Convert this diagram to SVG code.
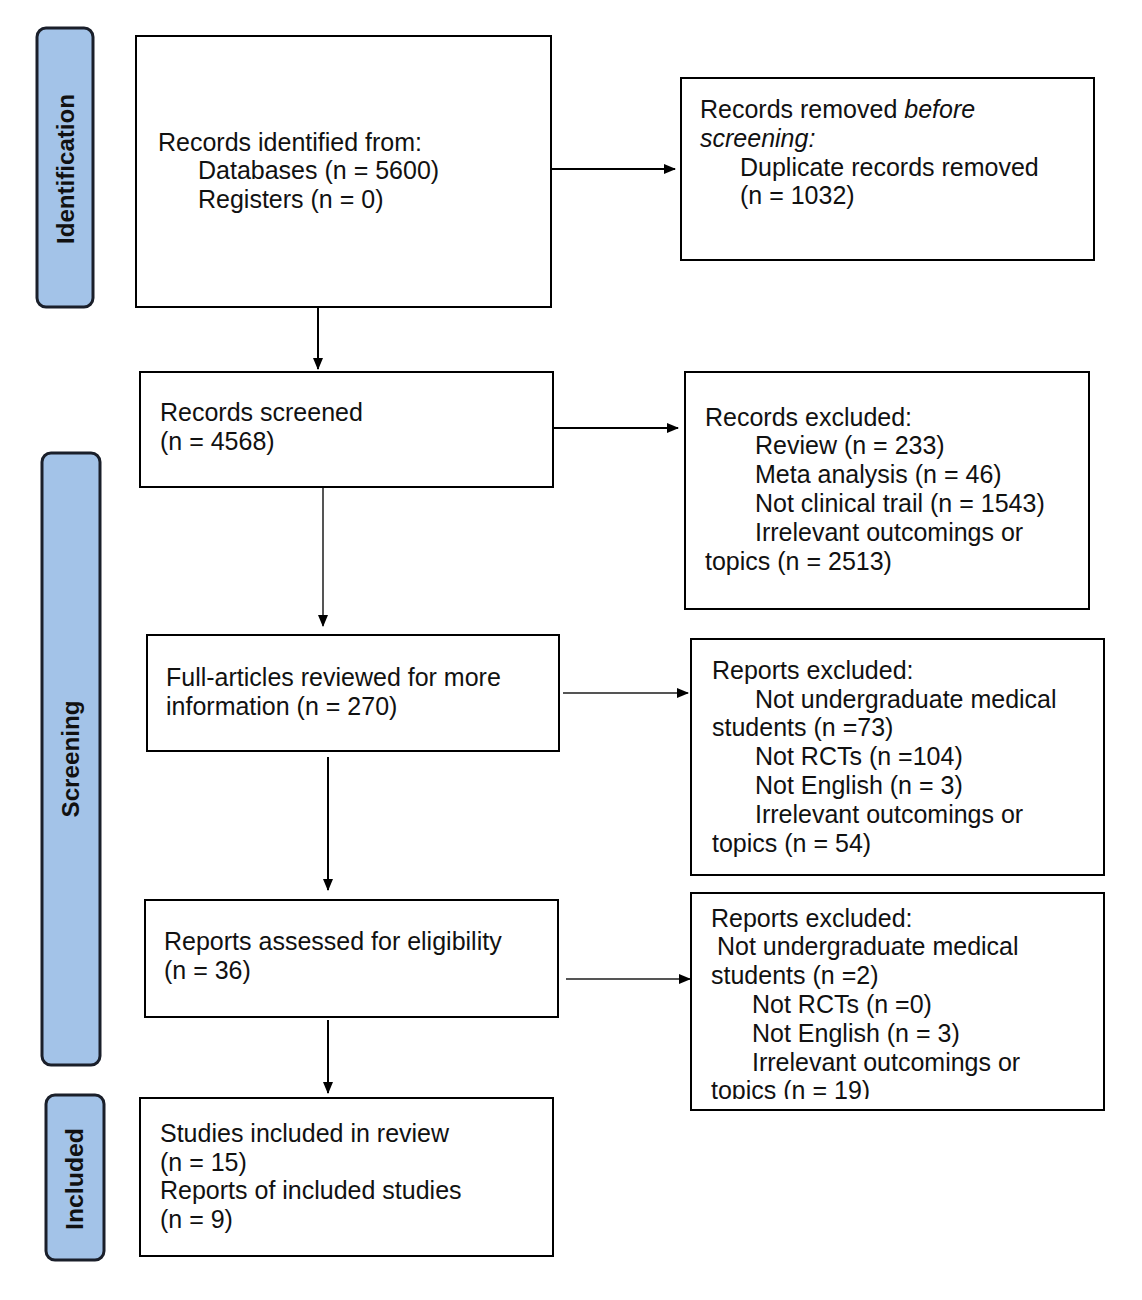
<svg xmlns="http://www.w3.org/2000/svg" width="1142" height="1300" viewBox="0 0 1142 1300">
<style>
.box{fill:#fff;stroke:#000;stroke-width:2}
.side{fill:#a3c3e8;stroke:#1a1f2a;stroke-width:3}
.t{font-family:"Liberation Sans",Arial,sans-serif;font-size:25px;fill:#111}
.s{font-family:"Liberation Sans",Arial,sans-serif;font-size:23px;font-weight:bold;fill:#111}
.c{stroke:#000;stroke-width:2;fill:none;marker-end:url(#ah)}
.g{stroke:#555;stroke-width:2;fill:none;marker-end:url(#ah)}
</style>
<defs>
<marker id="ah" markerWidth="12" markerHeight="10" refX="11" refY="5" orient="auto" markerUnits="userSpaceOnUse">
<path d="M0,0 L12,5 L0,10 Z" fill="#000"/>
</marker>
<clipPath id="clip8"><rect x="691" y="893" width="413" height="206"/></clipPath>
</defs>
<rect width="1142" height="1300" fill="#fff"/>

<g id="phase-identification">
<rect class="side" x="37" y="28" width="56" height="279" rx="9"/>
<text class="s" transform="translate(74,169) rotate(-90)" text-anchor="middle" textLength="150" lengthAdjust="spacingAndGlyphs">Identification</text>
</g>
<g id="phase-screening">
<rect class="side" x="42" y="453" width="58" height="612" rx="9"/>
<text class="s" transform="translate(79,759) rotate(-90)" text-anchor="middle" textLength="117" lengthAdjust="spacingAndGlyphs">Screening</text>
</g>
<g id="phase-included">
<rect class="side" x="46" y="1095" width="58" height="165" rx="9"/>
<text class="s" transform="translate(83,1179) rotate(-90)" text-anchor="middle" textLength="102" lengthAdjust="spacingAndGlyphs">Included</text>
</g>

<g id="connectors">
<line class="c" x1="551" y1="169" x2="675" y2="169"/>
<line class="c" x1="318" y1="308" x2="318" y2="369"/>
<line class="c" x1="553" y1="428" x2="678" y2="428"/>
<line class="g" x1="323" y1="487" x2="323" y2="626"/>
<line class="g" x1="563" y1="693" x2="688" y2="693"/>
<line class="c" x1="328" y1="757" x2="328" y2="890"/>
<line class="g" x1="566" y1="979" x2="690" y2="979"/>
<line class="c" x1="328" y1="1020" x2="328" y2="1093"/>
</g>

<g id="records-identified">
<rect class="box" x="136" y="36" width="415" height="271"/>
<text class="t" x="158" y="151">Records identified from:</text>
<text class="t" x="198" y="179">Databases (n = 5600)</text>
<text class="t" x="198" y="208">Registers (n = 0)</text>
</g>

<g id="records-removed">
<rect class="box" x="681" y="78" width="413" height="182"/>
<text class="t" x="700" y="118">Records removed <tspan font-style="italic">before</tspan></text>
<text class="t" x="700" y="147" font-style="italic">screening:</text>
<text class="t" x="740" y="176">Duplicate records removed</text>
<text class="t" x="740" y="204">(n = 1032)</text>
</g>

<g id="records-screened">
<rect class="box" x="140" y="372" width="413" height="115"/>
<text class="t" x="160" y="421">Records screened</text>
<text class="t" x="160" y="450">(n = 4568)</text>
</g>

<g id="records-excluded">
<rect class="box" x="685" y="372" width="404" height="237"/>
<text class="t" x="705" y="426">Records excluded:</text>
<text class="t" x="755" y="454">Review (n = 233)</text>
<text class="t" x="755" y="483">Meta analysis (n = 46)</text>
<text class="t" x="755" y="512">Not clinical trail (n = 1543)</text>
<text class="t" x="755" y="541">Irrelevant outcomings or</text>
<text class="t" x="705" y="570">topics (n = 2513)</text>
</g>

<g id="full-articles">
<rect class="box" x="147" y="635" width="412" height="116"/>
<text class="t" x="166" y="686">Full-articles reviewed for more</text>
<text class="t" x="166" y="715">information (n = 270)</text>
</g>

<g id="reports-excluded-1">
<rect class="box" x="691" y="639" width="413" height="236"/>
<text class="t" x="712" y="679">Reports excluded:</text>
<text class="t" x="755" y="708">Not undergraduate medical</text>
<text class="t" x="712" y="736">students (n =73)</text>
<text class="t" x="755" y="765">Not RCTs (n =104)</text>
<text class="t" x="755" y="794">Not English (n = 3)</text>
<text class="t" x="755" y="823">Irrelevant outcomings or</text>
<text class="t" x="712" y="852">topics (n = 54)</text>
</g>

<g id="reports-assessed">
<rect class="box" x="145" y="900" width="413" height="117"/>
<text class="t" x="164" y="950">Reports assessed for eligibility</text>
<text class="t" x="164" y="979">(n = 36)</text>
</g>

<g id="reports-excluded-2">
<rect class="box" x="691" y="893" width="413" height="217"/>
<g clip-path="url(#clip8)">
<text class="t" x="711" y="927">Reports excluded:</text>
<text class="t" x="717" y="955">Not undergraduate medical</text>
<text class="t" x="711" y="984">students (n =2)</text>
<text class="t" x="752" y="1013">Not RCTs (n =0)</text>
<text class="t" x="752" y="1042">Not English (n = 3)</text>
<text class="t" x="752" y="1071">Irrelevant outcomings or</text>
<text class="t" x="711" y="1099">topics (n = 19)</text>
</g>
</g>

<g id="studies-included">
<rect class="box" x="140" y="1098" width="413" height="158"/>
<text class="t" x="160" y="1142">Studies included in review</text>
<text class="t" x="160" y="1171">(n = 15)</text>
<text class="t" x="160" y="1199">Reports of included studies</text>
<text class="t" x="160" y="1228">(n = 9)</text>
</g>
</svg>
